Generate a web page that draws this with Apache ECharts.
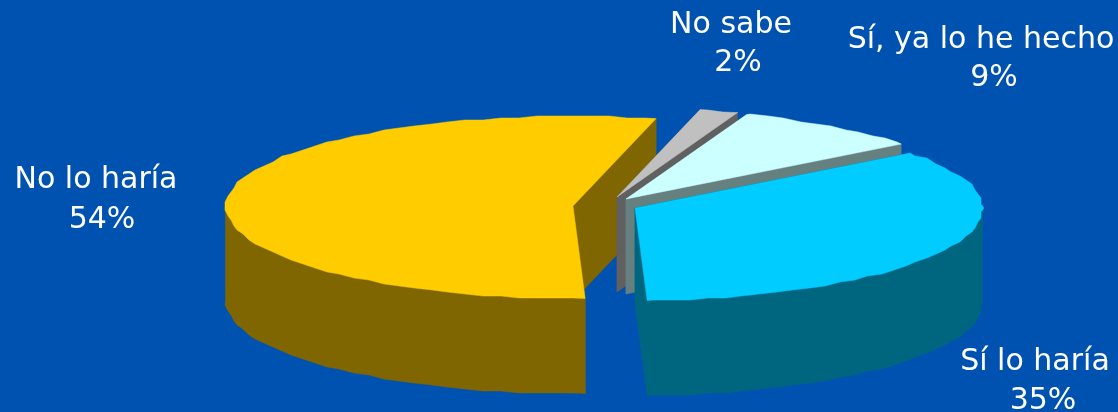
<!DOCTYPE html>
<html><head><meta charset="utf-8">
<style>html,body{margin:0;padding:0;background:#0052b0}#c{width:1118px;height:412px}</style>
<script src="https://cdn.jsdelivr.net/npm/echarts@6/dist/echarts.min.js"></script>
</head><body><div id="c"></div>
<script>
// Data, in drawing order (clockwise from the front). Slice sizes; labels show them rounded.
const categories = ['No lo haría', 'No sabe', 'Sí, ya lo he hecho', 'Sí lo haría'];
const values = [54.4, 1.8, 8.9, 34.9];

// Styles
const topColors = ['#ffcc00', '#c0c0c0', '#ccffff', '#00ccff'];
const sideColors = ['#806600', '#606060', '#668080', '#006680'];
const background = '#0052b0';

// Layout of the tilted pie
const apexX = [573, 617, 626, 635];
const apexY = [206, 197, 199, 208];
const radiusX = 347.5;
const radiusBack = 90;
const radiusFront = 92.5;
const depth = 95;
const startAngle = 178;   // degrees clockwise from the back
const arcStep = 3;
const snapX = 3;
const snapY = 2;
// Label anchor: [name x, name y, percent x, percent y]
const labelPlace = [[96, 180, 102, 220], [731, 25, 738, 63], [981, 40, 994, 78], [1035, 362, 1043, 401]];
const fontSize = 30;

const total = values.reduce((a, b) => a + b, 0);
const angles = [startAngle];
values.forEach((v, i) => angles.push(angles[i] + echarts.number.linearMap(v, [0, total], [0, 360])));

function rim(i, deg, dy, snapped) {
  const t = deg * Math.PI / 180, c = Math.cos(t);
  let x = apexX[i] + radiusX * Math.sin(t);
  let y = apexY[i] - (c > 0 ? radiusBack : radiusFront) * c;
  if (snapped) { x = Math.round(x / snapX) * snapX; y = Math.round(y / snapY) * snapY; }
  return [x, y + dy];
}
function arc(i, from, to, dy) {
  const pts = [rim(i, from, dy, false)];
  const first = Math.ceil((from + 0.5) / arcStep) * arcStep;
  for (let a = first; a < to - 0.5; a += arcStep) pts.push(rim(i, a, dy, true));
  pts.push(rim(i, to, dy, false));
  return pts;
}
function poly(points, fill) {
  return { type: 'polygon', shape: { points }, style: { fill, stroke: fill, lineWidth: 0.5 } };
}
function radial(i, a, fill) {
  const o = [apexX[i], apexY[i]], e = rim(i, a, 0, false);
  return poly([o, e, [e[0], e[1] + depth], [o[0], o[1] + depth]], fill);
}
function text(str, x, y) {
  return { type: 'text', x, y, z2: 10, style: { text: str, fill: '#fff', align: 'center', verticalAlign: 'middle',
    fontFamily: 'DejaVu Sans', fontSize } };
}
function renderItem(params, api) {
  const i = params.dataIndex, a0 = angles[i], a1 = angles[i + 1], side = sideColors[i];
  const children = [radial(i, a0, side), radial(i, a1, side)];
  // Outer wall: only the part facing the viewer, between 90 and 270 degrees
  for (const off of [0, 360, -360]) {
    const from = Math.max(a0, 90 + off), to = Math.min(a1, 270 + off);
    if (to > from) {
      const upper = arc(i, from, to, 0), lower = arc(i, from, to, depth).reverse();
      children.push(poly(upper.concat(lower), side));
    }
  }
  children.push(poly([[apexX[i], apexY[i]]].concat(arc(i, a0, a1, 0)), topColors[i]));
  const p = labelPlace[i];
  children.push(text(categories[i], p[0], p[1]), text(Math.round(api.value(1)) + '%', p[2], p[3]));
  return { type: 'group', children };
}
const chart = echarts.init(document.getElementById('c'), null, { renderer: 'canvas' });
chart.setOption({
  animation: false,
  backgroundColor: background,
  series: [{
    type: 'custom', coordinateSystem: 'none', renderItem, silent: true,
    data: categories.map((c, i) => ({ name: c, value: [i, values[i]] }))
  }]
});
</script></body></html>
